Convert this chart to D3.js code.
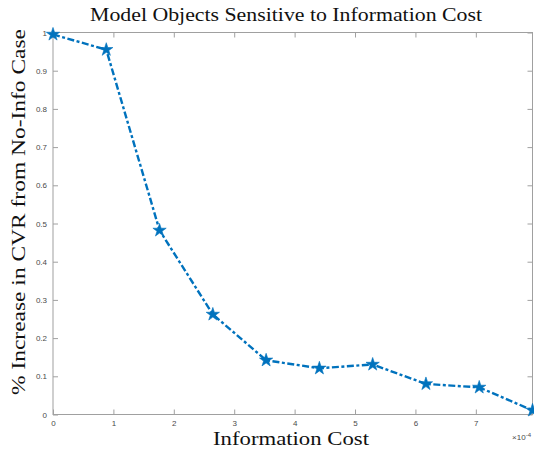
<!DOCTYPE html>
<html><head><meta charset="utf-8">
<script src="https://cdn.jsdelivr.net/npm/d3@7"></script>
<style>body{margin:0;background:#fff;} svg{display:block;}</style>
</head><body>
<script>
const xValues = [0, 0.882, 1.764, 2.646, 3.528, 4.41, 5.292, 6.174, 7.056, 7.938];
const yValues = [0.995, 0.955, 0.482, 0.262, 0.142, 0.121, 0.131, 0.080, 0.071, 0.011];
const xTicks = [0, 1, 2, 3, 4, 5, 6, 7];
const yTicks = [0, 0.1, 0.2, 0.3, 0.4, 0.5, 0.6, 0.7, 0.8, 0.9, 1];
const titleText = "Model Objects Sensitive to Information Cost";
const xLabel = "Information Cost";
const yLabel = "% Increase in CVR from No-Info Case";

const W = 534, H = 455;
const m = {left: 53, right: 1.5, top: 32.5, bottom: 40.5};
const svg = d3.select("body").append("svg").attr("width", W).attr("height", H);
const x = d3.scaleLinear().domain([0, 7.938]).range([m.left, W - m.right]);
const y = d3.scaleLinear().domain([0, 1]).range([H - m.bottom, m.top]);
const axisColor = "#a0a0a0", labColor = "#4a4a4a";
const sans = "'Liberation Sans', Arial, sans-serif";
const serif = "'Liberation Serif', serif";

svg.append("rect").attr("x", x(0)).attr("y", y(1)).attr("width", x(7.938) - x(0)).attr("height", y(0) - y(1))
  .attr("fill", "none").attr("stroke", axisColor).attr("stroke-width", 1);

function styleAxis(sel) {
  sel.select(".domain").remove();
  sel.selectAll(".tick line").attr("stroke", axisColor);
  sel.selectAll(".tick text").attr("fill", labColor).style("font-family", sans).style("font-size", "8px");
}
const tl = 5;
svg.append("g").attr("transform", `translate(0,${y(0)})`)
  .call(d3.axisBottom(x).tickValues(xTicks).tickSize(-tl).tickPadding(6).tickFormat(d3.format("d"))).call(styleAxis);
svg.append("g").attr("transform", `translate(0,${y(1)})`)
  .call(d3.axisTop(x).tickValues(xTicks).tickSize(-tl).tickFormat("")).call(styleAxis);
svg.append("g").attr("transform", `translate(${x(0)},0)`)
  .call(d3.axisLeft(y).tickValues(yTicks).tickSize(-tl).tickPadding(6).tickFormat(d => d === 0 ? "0" : d === 1 ? "1" : d3.format(".1f")(d))).call(styleAxis);
svg.append("g").attr("transform", `translate(${x(7.938)},0)`)
  .call(d3.axisRight(y).tickValues(yTicks).tickSize(-tl).tickFormat("")).call(styleAxis);

const ex = svg.append("text").attr("x", 531).attr("y", 440).attr("text-anchor", "end")
  .attr("fill", labColor).style("font-family", sans).style("font-size", "8px");
ex.append("tspan").text("\u00d710");
ex.append("tspan").attr("dy", -3).style("font-size", "6px").text("-4");

const pts = xValues.map((v, i) => [v, yValues[i]]);
const line = d3.line().x(d => x(d[0])).y(d => y(d[1]));
svg.append("path").datum(pts).attr("d", line).attr("fill", "none").attr("stroke", "#0072BD")
  .attr("stroke-width", 2.4).attr("stroke-dasharray", "7,2.5,3,2.5");
svg.append("g").selectAll("path").data(pts).join("path")
  .attr("transform", d => `translate(${x(d[0])},${y(d[1])})`)
  .attr("d", d3.symbol(d3.symbolStar, 55)).attr("fill", "#0072BD").attr("stroke", "#0072BD").attr("stroke-width", 0.6);

svg.append("text").attr("x", 286).attr("y", 21).attr("text-anchor", "middle").attr("font-family", serif)
  .attr("font-size", 19).attr("fill", "#111").attr("textLength", 392).attr("lengthAdjust", "spacingAndGlyphs").text(titleText);
svg.append("text").attr("x", 291).attr("y", 445).attr("text-anchor", "middle").attr("font-family", serif)
  .attr("font-size", 18).attr("fill", "#111").attr("textLength", 156).attr("lengthAdjust", "spacingAndGlyphs").text(xLabel);
svg.append("text").attr("transform", "translate(25,212) rotate(-90)").attr("text-anchor", "middle").attr("font-family", serif)
  .attr("font-size", 19).attr("fill", "#111").attr("textLength", 366).attr("lengthAdjust", "spacingAndGlyphs").text(yLabel);
</script>
</body></html>
